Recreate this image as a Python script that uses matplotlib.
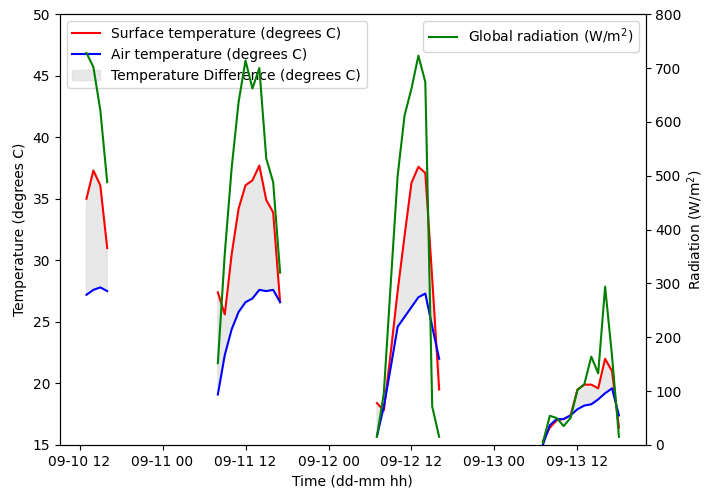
import numpy as np
import pandas as pd
import matplotlib
matplotlib.use("Agg")
import matplotlib.pyplot as plt
import matplotlib.dates as mdates

# Segment start times (hourly data within each segment)
seg_starts = ["2019-09-10 13:00", "2019-09-11 08:00", "2019-09-12 07:00", "2019-09-13 07:00"]

surface_1 = [35.0, 37.3, 36.1, 31.0]
air_1 = [27.2, 27.6, 27.8, 27.5]
rad_1 = [728, 702, 622, 488]

surface_2 = [27.4, 25.6, 30.5, 34.2, 36.1, 36.5, 37.7, 34.9, 33.9, 26.6]
air_2 = [19.1, 22.3, 24.4, 25.8, 26.6, 26.9, 27.6, 27.5, 27.6, 26.6]
rad_2 = [152, 355, 515, 637, 714, 662, 700, 532, 488, 320]

surface_3 = [18.4, 17.8, 22.5, 27.5, 32.0, 36.3, 37.6, 37.1, 28.5, 19.5]
air_3 = [15.7, 18.1, 21.3, 24.6, 25.4, 26.2, 27.0, 27.3, 24.6, 22.0]
rad_3 = [15, 96, 300, 500, 612, 662, 723, 674, 71, 15]

surface_4 = [15.3, 16.4, 17.0, 17.1, 17.4, 19.5, 19.9, 19.9, 19.6, 22.0, 21.0, 16.4]
air_4 = [15.0, 16.6, 17.1, 17.1, 17.4, 17.9, 18.2, 18.3, 18.7, 19.2, 19.6, 17.4]
rad_4 = [4, 54, 50, 35, 50, 102, 113, 164, 133, 294, 165, 15]

surface_segs = [surface_1, surface_2, surface_3, surface_4]
air_segs = [air_1, air_2, air_3, air_4]
rad_segs = [rad_1, rad_2, rad_3, rad_4]

# Build a full hourly index with gaps (NaN) between segments
last_end = pd.Timestamp(seg_starts[-1]) + pd.Timedelta(hours=len(surface_4) - 1)
index = pd.date_range(seg_starts[0], last_end, freq="h")
df = pd.DataFrame(index=index, columns=["surface", "air", "rad"], dtype=float)
for start, s, a, r in zip(seg_starts, surface_segs, air_segs, rad_segs):
    t = pd.date_range(start, periods=len(s), freq="h")
    df.loc[t, "surface"] = s
    df.loc[t, "air"] = a
    df.loc[t, "rad"] = r

fig, ax1 = plt.subplots(figsize=(7.04, 4.9), dpi=100)
fig.subplots_adjust(left=0.085, right=0.917, bottom=0.092, top=0.971)

x = df.index.to_pydatetime()
ax1.plot(x, df["surface"].values, color="red", label="Surface temperature (degrees C)")
ax1.plot(x, df["air"].values, color="blue", label="Air temperature (degrees C)")
ax1.fill_between(x, df["air"].values, df["surface"].values, color="lightgrey", alpha=0.5,
                 label="Temperature Difference (degrees C)")
ax1.set_ylim(15, 50)
ax1.set_ylabel("Temperature (degrees C)")
ax1.set_xlabel("Time (dd-mm hh)")
ax1.xaxis.set_major_locator(mdates.HourLocator(byhour=[0, 12]))
ax1.xaxis.set_major_formatter(mdates.DateFormatter("%m-%d %H"))
ax1.legend(loc="upper left")

ax2 = ax1.twinx()
ax2.plot(x, df["rad"].values, color="green", label="Global radiation (W/m$^2$)")
ax2.set_ylim(0, 800)
ax2.set_ylabel("Radiation (W/m$^2$)", labelpad=2.5)
ax2.legend(loc="upper right")

fig.savefig("out.png", dpi=100)
